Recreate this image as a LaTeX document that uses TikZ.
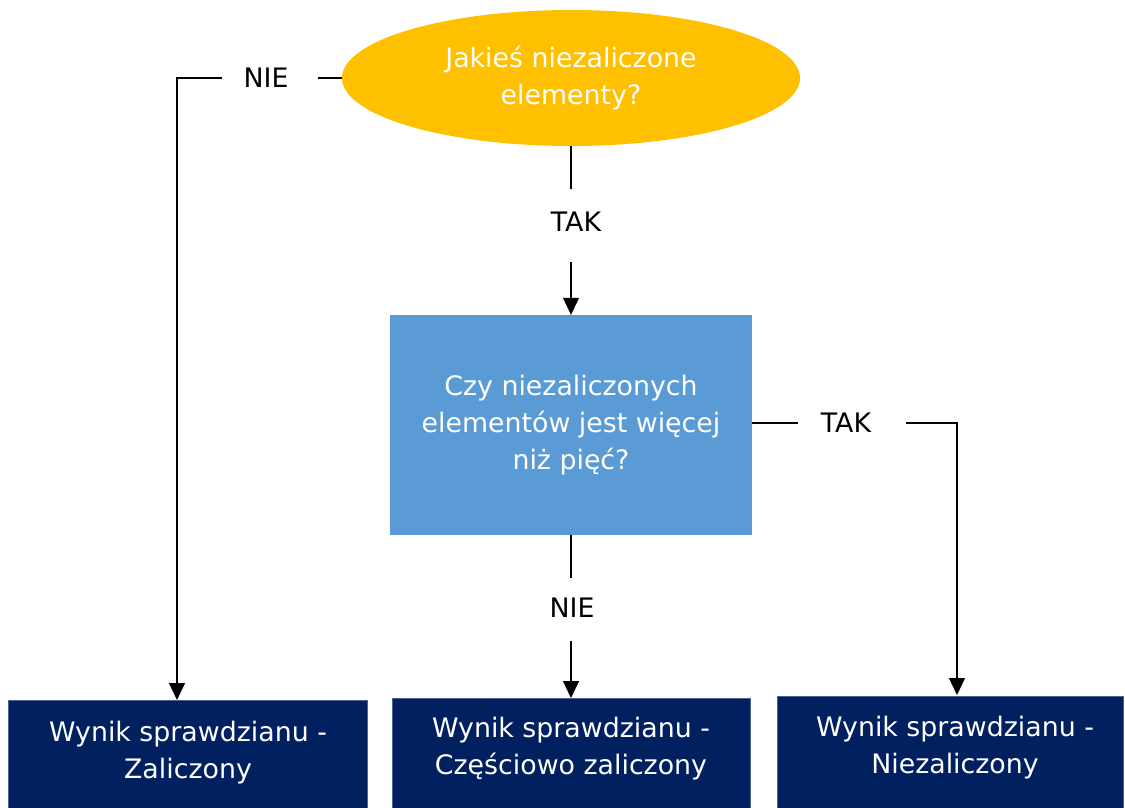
\documentclass[tikz,border=0pt]{standalone}
\usepackage{fontspec}
\setmainfont{DejaVu Sans}
\usetikzlibrary{shapes.geometric,arrows.meta}
\definecolor{decision}{HTML}{FFC000}
\definecolor{question}{HTML}{5B9BD5}
\definecolor{result}{HTML}{002060}
\begin{document}
\begin{tikzpicture}[x=1pt,y=-1pt,
  every node/.style={font=\fontsize{26.8}{37}\selectfont, align=center},
  decbox/.style={ellipse, fill=decision, text=white, minimum width=458pt, minimum height=136pt, inner sep=0pt},
  qbox/.style={rectangle, fill=question, text=white, minimum width=362pt, minimum height=220pt, inner sep=0pt},
  resbox/.style={rectangle, fill=result, draw=result!70!white, line width=0.8pt, inner sep=0pt, anchor=north west},
  restext/.style={text=white},
  lbl/.style={inner sep=0pt, minimum height=30pt},
  conn/.style={line width=1.2pt, black},
  arr/.style={conn, -{Triangle[width=16pt,length=17pt]}}
]
\useasboundingbox (0,0) rectangle (1125,807);

% decision and question
\node[decbox] (dec) at (571,78) {Jakieś niezaliczone\\elementy?};
\node[qbox] (q) at (571,425) {Czy niezaliczonych\\elementów jest więcej\\niż pięć?};

% results (cut by the lower edge)
\node[resbox, minimum width=359pt, minimum height=115pt] (r1) at (8,700) {};
\node[resbox, minimum width=358pt, minimum height=115pt] (r2) at (392,698) {};
\node[resbox, minimum width=346pt, minimum height=115pt] (r3) at (777,696) {};
\node[restext] (t1) at (188,753) {Wynik sprawdzianu -\\Zaliczony};
\node[restext] (t2) at (571,749) {Wynik sprawdzianu -\\Częściowo zaliczony};
\node[restext] (t3) at (955,748) {Wynik sprawdzianu -\\Niezaliczony};

% branch labels
\node[lbl, minimum width=96pt] (nie1) at (270,78) {\kern-8pt NIE};
\node[lbl, minimum height=73pt] (tak1) at (571,225.5) {\kern10pt\raisebox{7pt}{TAK}};
\node[lbl, minimum width=108pt] (tak2) at (852,423) {\kern-12pt TAK};
\node[lbl, minimum height=63pt] (nie2) at (571,609.5) {\kern2pt\raisebox{3pt}{NIE}};

% connectors
\draw[conn] (dec.west) -- (nie1.east);
\draw[arr] (nie1.west) -| (r1.north -| 177,0);
\draw[conn] (dec.south) -- (tak1.north);
\draw[arr] (tak1.south) -- (q.north);
\draw[conn] (q.east |- tak2) -- (tak2.west);
\draw[arr] (tak2.east) -| (957,695);
\draw[conn] (q.south) -- (nie2.north);
\draw[arr] (nie2.south) -- (r2.north -| nie2);
\end{tikzpicture}
\end{document}
